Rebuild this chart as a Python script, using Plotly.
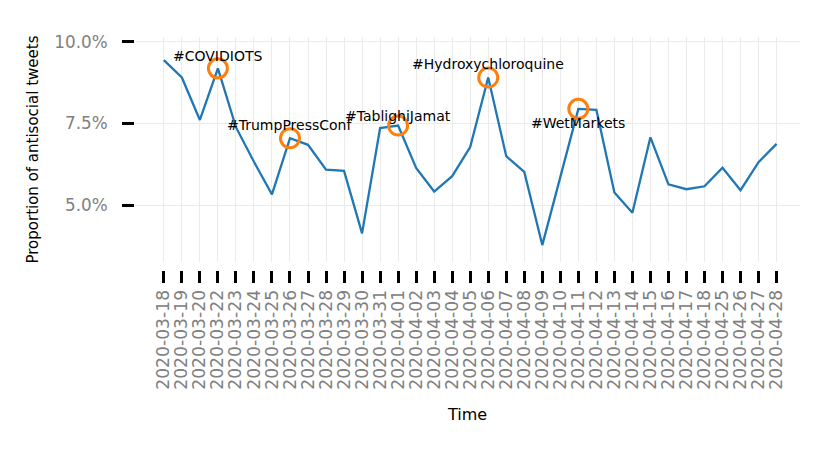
import plotly.graph_objects as go

dates = [
    "2020-03-18", "2020-03-19", "2020-03-20", "2020-03-22", "2020-03-23",
    "2020-03-24", "2020-03-25", "2020-03-26", "2020-03-27", "2020-03-28",
    "2020-03-29", "2020-03-30", "2020-03-31", "2020-04-01", "2020-04-02",
    "2020-04-03", "2020-04-04", "2020-04-05", "2020-04-06", "2020-04-07",
    "2020-04-08", "2020-04-09", "2020-04-10", "2020-04-11", "2020-04-12",
    "2020-04-13", "2020-04-14", "2020-04-15", "2020-04-16", "2020-04-17",
    "2020-04-18", "2020-04-25", "2020-04-26", "2020-04-27", "2020-04-28",
]
proportion = [
    0.0944, 0.0891, 0.0761, 0.0919, 0.0739,
    0.0633, 0.0533, 0.0705, 0.0685, 0.0609,
    0.0605, 0.0414, 0.0736, 0.0744, 0.0614,
    0.0542, 0.0589, 0.0678, 0.0891, 0.0650,
    0.0602, 0.0378, 0.0586, 0.0795, 0.0792,
    0.0539, 0.0477, 0.0708, 0.0564, 0.0549,
    0.0558, 0.0615, 0.0546, 0.0632, 0.0688,
]

# highlighted hashtag events
event_dates = ["2020-03-22", "2020-03-26", "2020-04-01", "2020-04-06", "2020-04-11"]
event_labels = ["#COVIDIOTS", "#TrumpPressConf", "#TablighiJamat",
                "#Hydroxychloroquine", "#WetMarkets"]
label_shift = [12, 13, 10, 14, -14]

lookup = dict(zip(dates, proportion))
event_values = [lookup[d] for d in event_dates]

fig = go.Figure()
fig.add_trace(go.Scatter(
    x=dates, y=proportion, mode="lines",
    line=dict(color="#1f77b4", width=2.3),
    showlegend=False,
))
fig.add_trace(go.Scatter(
    x=event_dates, y=event_values, mode="markers",
    marker=dict(symbol="circle-open", size=19, color="#ff7f0e",
                line=dict(width=3, color="#ff7f0e")),
    showlegend=False,
))

for d, v, lab, s in zip(event_dates, event_values, event_labels, label_shift):
    fig.add_annotation(x=d, y=v, text=lab, showarrow=False,
                       yshift=s, font=dict(size=14, color="black"))

fig.update_layout(
    width=832, height=450,
    paper_bgcolor="white", plot_bgcolor="white",
    font=dict(family="DejaVu Sans", size=15, color="black"),
    margin=dict(l=127, r=40, t=29, b=188),
    xaxis=dict(
        type="category", categoryorder="array", categoryarray=dates,
        tickmode="array", tickvals=dates, ticktext=dates,
        range=[-1.6, 35.3], anchor="free", position=0,
        tickangle=-90, tickfont=dict(size=17.2, color="#808080"),
        ticks="outside", ticklen=12, tickwidth=3, tickcolor="black",
        showgrid=True, gridcolor="#ebebeb", gridwidth=1,
        showline=False, zeroline=False,
        title=dict(text="Time", font=dict(size=16), standoff=20),
    ),
    yaxis=dict(
        domain=[0.034, 1], range=[0.0326, 0.1015],
        tickvals=[0.05, 0.075, 0.10], tickformat=".1%",
        tickfont=dict(size=16.8, color="#808080"), ticklabelstandoff=11,
        ticks="outside", ticklen=12, tickwidth=3, tickcolor="black",
        showgrid=True, gridcolor="#ebebeb", gridwidth=1,
        showline=False, zeroline=False,
        title=dict(text="Proportion of antisocial tweets", font=dict(size=15), standoff=12),
    ),
)

fig.write_html("out.html")
